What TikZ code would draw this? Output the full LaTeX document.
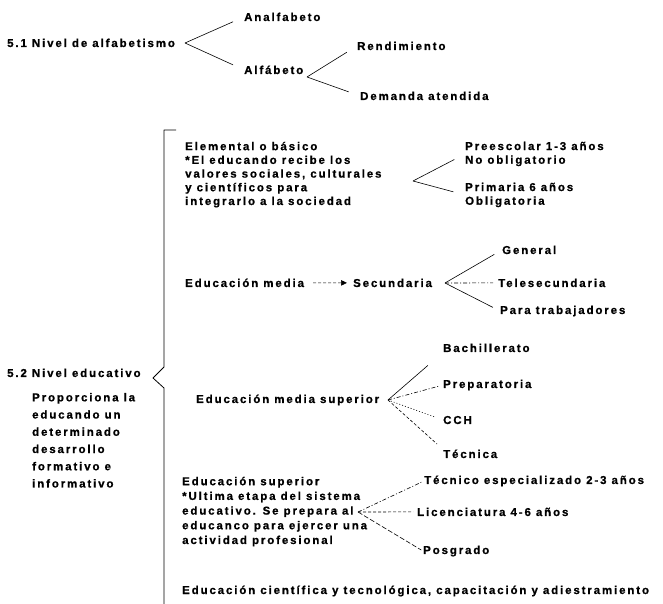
\documentclass[tikz,border=0pt]{standalone}
\usepackage{fontspec}
\setmainfont{Liberation Sans Bold}[LetterSpace=16.5,FakeBold=0.8]
\usetikzlibrary{arrows.meta}
\tikzset{
  lbl/.style={inner sep=0pt, anchor=base west, align=left},
  fan/.style={line width=0.6bp, shorten >=#1},
  fan/.default=12bp,
  dashdot/.style={dash pattern=on 4bp off 2bp on 1bp off 2bp},
}
\begin{document}
\begin{tikzpicture}[>={Triangle[length=6bp,width=5.5bp]},line join=bevel,font=\fontsize{11.5}{13.75}\selectfont]
\useasboundingbox (0bp,0bp) rectangle (663bp,604bp);
%%
\node (alfabetismo) at (7bp,557bp) [lbl] {5.1 Nivel de alfabetismo};
  \node (analfabeto) at (244bp,583bp) [lbl] {Analfabeto};
  \node (alfabeto) at (244bp,530bp) [lbl] {Alfábeto};
  \node (rendimiento) at (357bp,554bp) [lbl] {Rendimiento};
  \node (demanda) at (360bp,504bp) [lbl] {Demanda atendida};
  \node (educativo) at (7bp,227bp) [lbl] {5.2 Nivel educativo};
  \node (proporciona) at (32bp,116.5bp) [lbl,font=\fontsize{11.5}{17.3}\selectfont] {Proporciona la\\educando un\\determinado\\desarrollo\\formativo e\\informativo};
  \node (elemental) at (185bp,399bp) [lbl] {Elemental o básico\\*El educando recibe los\\valores sociales, culturales\\y científicos para\\integrarlo a la sociedad};
  \node (preescolar) at (465bp,440.25bp) [lbl] {Preescolar 1-3 años\\No obligatorio};
  \node (primaria) at (465bp,399.25bp) [lbl] {Primaria 6 años\\Obligatoria};
  \node (media) at (185bp,317bp) [lbl] {Educación media};
  \node (secundaria) at (353bp,317bp) [lbl] {Secundaria};
  \node (general) at (502bp,350bp) [lbl] {General};
  \node (telesec) at (498bp,317bp) [lbl] {Telesecundaria};
  \node (trabajadores) at (500bp,290bp) [lbl] {Para trabajadores};
  \node (mediasup) at (196bp,201bp) [lbl] {Educación media superior};
  \node (bachillerato) at (443bp,252bp) [lbl] {Bachillerato};
  \node (preparatoria) at (443bp,216bp) [lbl] {Preparatoria};
  \node (cch) at (443bp,180bp) [lbl] {CCH};
  \node (tecnica) at (443bp,146bp) [lbl] {Técnica};
  \node (superior) at (182bp,60bp) [lbl,font=\fontsize{11.5}{14.75}\selectfont] {Educación superior\\*Ultima etapa del sistema\\educativo. Se prepara al\\educanco para ejercer una\\actividad profesional};
  \node (tecnico) at (424bp,120bp) [lbl] {Técnico especializado 2-3 años};
  \node (licenciatura) at (417bp,88bp) [lbl] {Licenciatura 4-6 años};
  \node (posgrado) at (423bp,50bp) [lbl] {Posgrado};
  \node (cientifica) at (182bp,10bp) [lbl] {Educación científica y tecnológica, capacitación y adiestramiento};
  \coordinate (a51) at (185bp,561bp);
  \coordinate (aalf) at (307bp,527bp);
  \coordinate (aelem) at (413bp,423bp);
  \coordinate (asec) at (445bp,321bp);
  \coordinate (amsup) at (388bp,204bp);
  \coordinate (asup) at (358bp,92bp);
  \draw [fan] (a51) -- (analfabeto.west);
  \draw [fan] (a51) -- (alfabeto.west);
  \draw [fan] (aalf) -- (rendimiento.west);
  \draw [fan] (aalf) -- (demanda.west);
  \draw [fan] (aelem) -- (preescolar.west);
  \draw [fan] (aelem) -- (primaria.west);
  \draw [->,line width=0.6bp,dash pattern=on 3bp off 2bp,shorten <=9bp,shorten >=6bp] (media) -- (secundaria);
  \draw [fan=9bp] (asec) -- (general.west);
  \draw [fan=5bp,dashdot] (asec) -- (telesec.west);
  \draw [fan=8bp] (asec) -- (trabajadores.west);
  \draw [fan=20bp] (amsup) -- (bachillerato.south west);
  \draw [fan=3bp,dashdot] (amsup) -- (preparatoria.west);
  \draw [fan=8bp,dash pattern=on 1bp off 2bp] (amsup) -- (cch.west);
  \draw [fan=8bp,dash pattern=on 3bp off 2bp] (amsup) -- (tecnica.north west);
  \draw [fan=2bp,dashdot] (asup) -- (tecnico.west);
  \draw [fan=4bp,dash pattern=on 3bp off 2bp] (asup) -- (licenciatura.west);
  \draw [fan=2bp,dash pattern=on 5bp off 2bp] (asup) -- (posgrado.west);
  % llave
  \draw [line width=0.8bp] (176bp,474bp) -- (164bp,474bp) -- (164bp,237bp) -- (153bp,226bp) -- (164bp,216bp) -- (164bp,0bp);
%
\end{tikzpicture}
\end{document}
